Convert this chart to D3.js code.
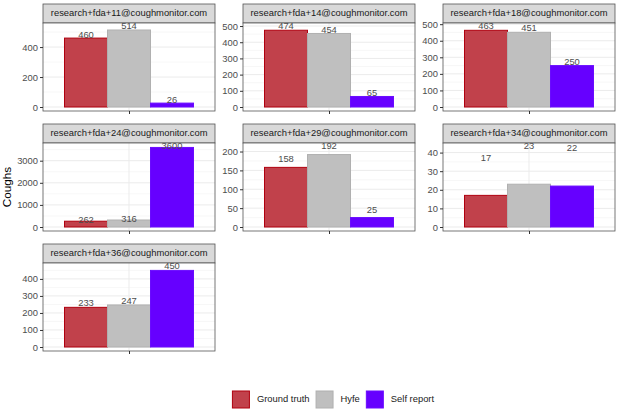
<!DOCTYPE html>
<html>
<head>
<meta charset="utf-8">
<script src="https://cdn.jsdelivr.net/npm/d3@7"></script>
<style>
  body { margin: 0; background: #fff; }
  svg text { font-family: "Liberation Sans", Arial, sans-serif; }
</style>
</head>
<body>
<div id="chart"></div>
<script>
// facet labels, one per panel
const users = [
  "research+fda+11@coughmonitor.com",
  "research+fda+14@coughmonitor.com",
  "research+fda+18@coughmonitor.com",
  "research+fda+24@coughmonitor.com",
  "research+fda+29@coughmonitor.com",
  "research+fda+34@coughmonitor.com",
  "research+fda+36@coughmonitor.com"
];
const sources = ["Ground truth", "Hyfe", "Self report"];

// counts per panel, same order as sources
const groundTruth = [460, 474, 463, 262, 158, 17, 233];
const hyfe        = [514, 454, 451, 316, 192, 23, 247];
const selfReport  = [26, 65, 250, 3600, 25, 22, 450];

// y-axis major breaks per panel
const yBreaks = [
  [0, 200, 400],
  [0, 100, 200, 300, 400, 500],
  [0, 100, 200, 300, 400, 500],
  [0, 1000, 2000, 3000],
  [0, 50, 100, 150, 200],
  [0, 10, 20, 30, 40],
  [0, 100, 200, 300, 400]
];
const labelNudge = 20;

const fills   = {"Ground truth": "#c1414b", "Hyfe": "#bfbfbf", "Self report": "#6600ff"};
const strokes = {"Ground truth": "#b0000f", "Hyfe": "#b0b0b0", "Self report": "#6a0cff"};

const W = 619, H = 416;
const ncol = 3;
const panelW = 172, panelH = 88, stripH = 19;
const colX = [43, 243, 443];
const rowY = [4, 124, 244];

const svg = d3.select("#chart").append("svg")
    .attr("width", W)
    .attr("height", H);

const series = [groundTruth, hyfe, selfReport];

users.forEach((user, p) => {
  let vals = series.map(s => s[p]);
  let gx = colX[p % ncol], gy = rowY[Math.floor(p / ncol)];
  let g = svg.append("g").attr("transform", `translate(${gx},${gy})`);

  // strip
  g.append("rect")
      .attr("x", 0).attr("y", 0)
      .attr("width", panelW).attr("height", stripH)
      .attr("fill", "#d9d9d9")
      .attr("stroke", "#555")
      .attr("stroke-width", 0.8);
  g.append("text")
      .attr("x", panelW / 2).attr("y", stripH / 2 + 0.5)
      .attr("text-anchor", "middle")
      .attr("dominant-baseline", "middle")
      .style("font-size", "9.4px")
      .attr("fill", "#1a1a1a")
      .text(user);

  let pg = g.append("g").attr("transform", `translate(0,${stripH})`);

  // scales (ggplot-like 5% expansion, discrete x expanded 0.6)
  let top = d3.max(vals) + labelNudge;
  let pad = top * 0.05;
  let y = d3.scaleLinear().domain([-pad, top + pad]).range([panelH, 0]);
  let x = d3.scaleLinear().domain([0.4, 1.6]).range([0, panelW]);

  pg.append("rect")
      .attr("width", panelW).attr("height", panelH)
      .attr("fill", "#fff");

  // grid
  let br = yBreaks[p];
  let step = br[1] - br[0];
  let minor = [];
  for (let v = br[0] + step / 2; v < top + pad; v += step) minor.push(v);
  pg.selectAll(".minor").data(minor).enter().append("line")
      .attr("x1", 0).attr("x2", panelW)
      .attr("y1", d => y(d)).attr("y2", d => y(d))
      .attr("stroke", "#f2f2f2").attr("stroke-width", 0.6);
  pg.selectAll(".major").data(br).enter().append("line")
      .attr("x1", 0).attr("x2", panelW)
      .attr("y1", d => y(d)).attr("y2", d => y(d))
      .attr("stroke", "#ebebeb").attr("stroke-width", 1);
  pg.append("line")
      .attr("x1", x(1)).attr("x2", x(1))
      .attr("y1", 0).attr("y2", panelH)
      .attr("stroke", "#ebebeb").attr("stroke-width", 1);

  // bars
  let bw = 0.3;
  pg.selectAll(".bar").data(vals).enter().append("rect")
      .attr("x", (d, i) => x(0.55 + i * bw))
      .attr("width", x(bw) - x(0))
      .attr("y", d => y(d))
      .attr("height", d => y(0) - y(d))
      .attr("fill", (d, i) => fills[sources[i]])
      .attr("stroke", (d, i) => strokes[sources[i]])
      .attr("stroke-width", 1);

  // value labels
  pg.selectAll(".lab").data(vals).enter().append("text")
      .attr("x", (d, i) => x(0.7 + i * bw))
      .attr("y", d => y(d + labelNudge))
      .attr("text-anchor", "middle")
      .attr("dominant-baseline", "middle")
      .style("font-size", "9.4px")
      .attr("fill", "#4d4d4d")
      .text(d => d);

  // border
  pg.append("rect")
      .attr("width", panelW).attr("height", panelH)
      .attr("fill", "none")
      .attr("stroke", "#555")
      .attr("stroke-width", 0.8);

  // axes
  let yAxis = d3.axisLeft(y).tickValues(br).tickSize(3).tickPadding(2).tickFormat(d3.format("d"));
  let ya = pg.append("g").call(yAxis);
  ya.select(".domain").remove();
  ya.selectAll("line").attr("stroke", "#333");
  ya.selectAll("text").style("font-size", "9.4px").attr("fill", "#4d4d4d");

  let xAxis = d3.axisBottom(x).tickValues([1]).tickSize(3).tickFormat("");
  let xa = pg.append("g").attr("transform", `translate(0,${panelH})`).call(xAxis);
  xa.select(".domain").remove();
  xa.selectAll("line").attr("stroke", "#333");
});

// y title
svg.append("text")
    .attr("transform", "translate(11,187) rotate(-90)")
    .attr("text-anchor", "middle")
    .style("font-size", "11.7px")
    .attr("fill", "#000")
    .text("Coughs");

// legend
let legend = svg.append("g");
let lx = 0;
sources.forEach(s => {
  let it = legend.append("g").attr("transform", `translate(${lx},0)`);
  it.append("rect")
      .attr("x", 0.5).attr("y", 0.5)
      .attr("width", 17).attr("height", 17)
      .attr("fill", fills[s])
      .attr("stroke", strokes[s])
      .attr("stroke-width", 1);
  let t = it.append("text")
      .attr("x", 25).attr("y", 9)
      .attr("dominant-baseline", "middle")
      .style("font-size", "9.4px")
      .attr("fill", "#1a1a1a")
      .text(s);
  lx += 25 + t.node().getComputedTextLength() + 6;
});
let legendW = lx - 6;
legend.attr("transform", `translate(${333 - legendW / 2},390.5)`);
</script>
</body>
</html>
